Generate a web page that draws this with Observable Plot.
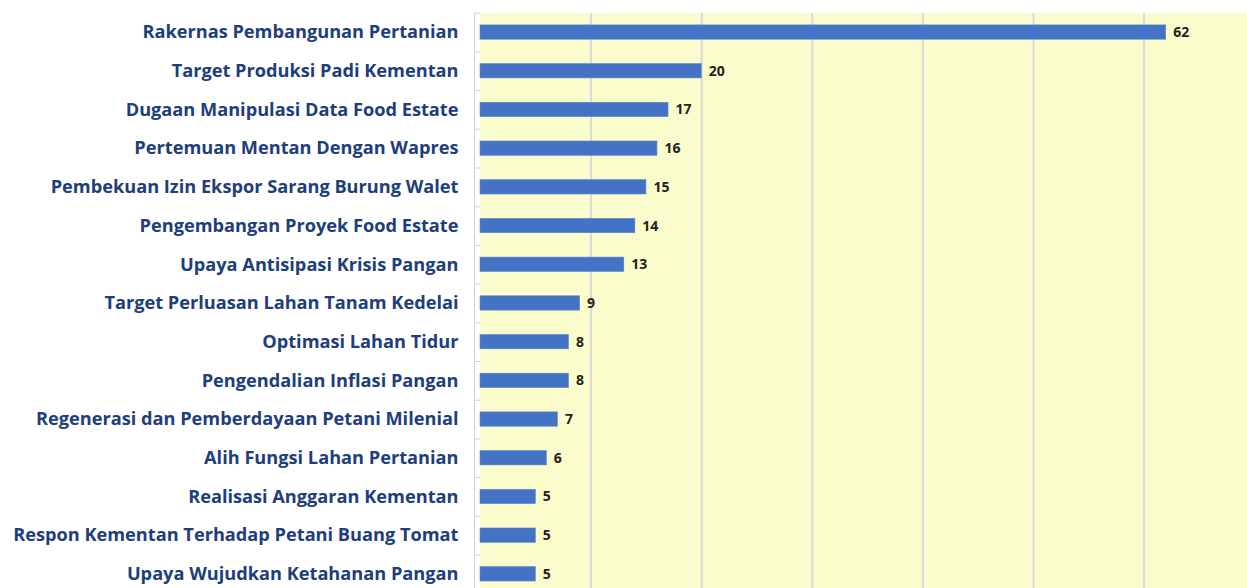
<!DOCTYPE html>
<html>
<head>
<meta charset="utf-8">
<script src="https://cdn.jsdelivr.net/npm/d3@7"></script>
<script src="https://cdn.jsdelivr.net/npm/@observablehq/plot@0.6"></script>
<style>
  html, body { margin: 0; padding: 0; background: #ffffff; overflow: hidden; }
  #chart svg { display: block; }
</style>
</head>
<body>
<div id="chart"></div>
<script>
const categories = [
  "Rakernas Pembangunan Pertanian",
  "Target Produksi Padi Kementan",
  "Dugaan Manipulasi Data Food Estate",
  "Pertemuan Mentan Dengan Wapres",
  "Pembekuan Izin Ekspor Sarang Burung Walet",
  "Pengembangan Proyek Food Estate",
  "Upaya Antisipasi Krisis Pangan",
  "Target Perluasan Lahan Tanam Kedelai",
  "Optimasi Lahan Tidur",
  "Pengendalian Inflasi Pangan",
  "Regenerasi dan Pemberdayaan Petani Milenial",
  "Alih Fungsi Lahan Pertanian",
  "Realisasi Anggaran Kementan",
  "Respon Kementan Terhadap Petani Buang Tomat",
  "Upaya Wujudkan Ketahanan Pangan"
];
const values = [62, 20, 17, 16, 15, 14, 13, 9, 8, 8, 7, 6, 5, 5, 5];
const gridTicks = [10, 20, 30, 40, 50, 60];

const data = categories.map((c, i) => ({category: c, value: values[i]}));

const chart = Plot.plot({
  width: 1247,
  height: 588,
  marginLeft: 480,
  marginRight: 0,
  marginTop: 13,
  marginBottom: 0,
  style: {background: "transparent", fontFamily: "'Open Sans', sans-serif"},
  x: {domain: [0, 69.35], axis: null},
  y: {domain: categories, range: [12.7, 593.2], paddingInner: 0.63, paddingOuter: 0.315, round: false, axis: null},
  marks: [
    Plot.frame({fill: "#FAFCCB", stroke: null}),
    Plot.gridX(gridTicks, {stroke: "#D9D9D9", strokeOpacity: 1, strokeWidth: 2}),
    Plot.ruleX([0], {dx: -6, stroke: "#D0D0D0", strokeWidth: 1}),
    Plot.ruleY(categories, {y: d => d, dy: -19.35, x1: 0, x2: 0, insetLeft: -6, stroke: "#D0D0D0", strokeWidth: 1}),
    Plot.barX(data, {x: "value", y: "category", fill: "#4472C4", stroke: "#5B85CF", strokeWidth: 0.6}),
    Plot.text(data, {x: "value", y: "category", text: d => String(d.value), dx: 7, textAnchor: "start",
      fontSize: 14, fontWeight: "bold", fill: "#222222"}),
    Plot.text(data, {x: 0, y: "category", text: "category", dx: -22, textAnchor: "end",
      fontSize: 18.2, fontWeight: "bold", fill: "#203D7C"})
  ]
});
document.getElementById("chart").appendChild(chart);
</script>
</body>
</html>
